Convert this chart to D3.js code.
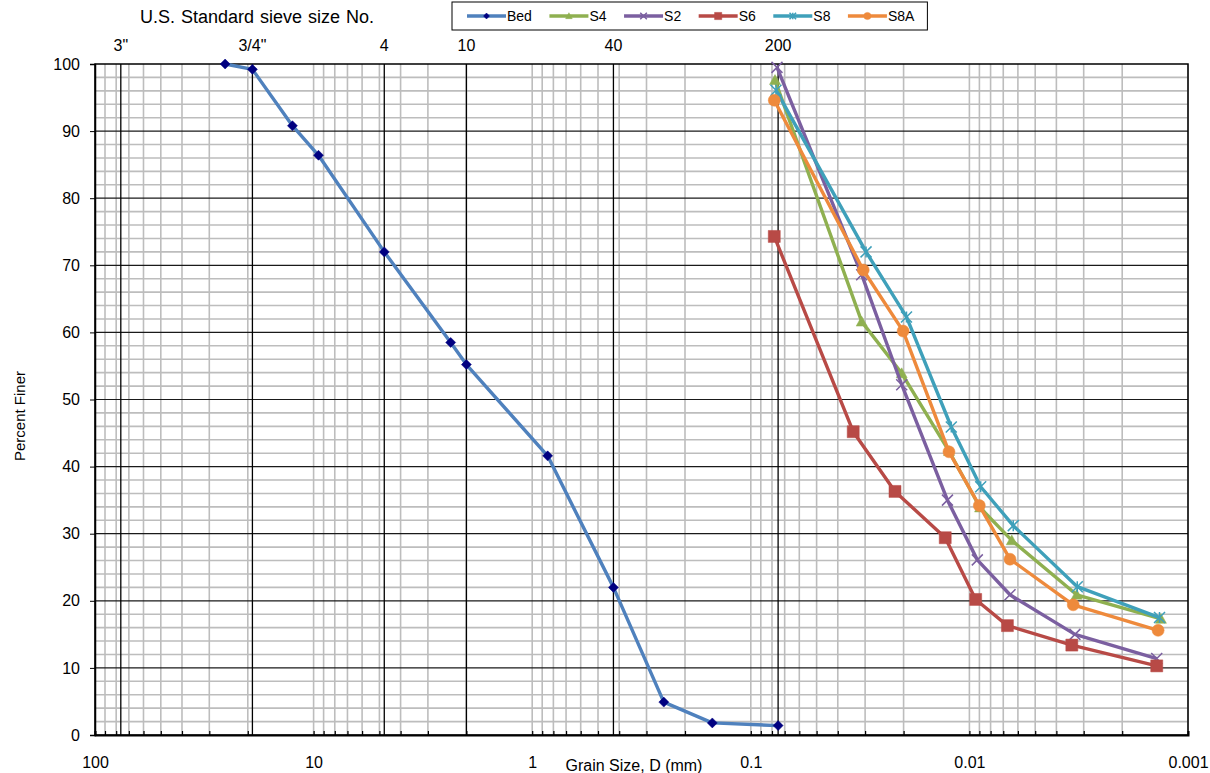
<!DOCTYPE html>
<html>
<head>
<meta charset="utf-8">
<script src="https://cdn.jsdelivr.net/npm/d3@7"></script>
<style>
  body { margin: 0; background: #fff; }
  svg { display: block; font-family: Arial, 'Liberation Sans', sans-serif; }
</style>
</head>
<body>
<div id="chart"></div>
<script>
// sieve sizes (mm) shown along the top
const sieveLabels = ['3"', '3/4"', '4', '10', '40', '200']
const sieveSizes = [76.2, 19.05, 4.75, 2.0, 0.425, 0.075]

// bottom axis decade labels
const decadeValues = [100, 10, 1, 0.1, 0.01, 0.001]
const decadeLabels = ['100', '10', '1', '0.1', '0.01', '0.001']

const yTicks = [0, 10, 20, 30, 40, 50, 60, 70, 80, 90, 100]

// grain size (mm) and percent finer for each sample
const bedSize = [25.4, 19.05, 12.5, 9.5, 4.75, 2.36, 2.0, 0.85, 0.425, 0.25, 0.15, 0.075]
const bedFiner = [100, 99.2, 90.8, 86.4, 72.0, 58.5, 55.2, 41.6, 22.0, 4.9, 1.8, 1.4]

const s4Size = [0.0775, 0.0311, 0.0204, 0.0124, 0.00894, 0.0064, 0.00323, 0.00133]
const s4Finer = [97.6, 61.6, 53.9, 42.3, 33.9, 29.0, 20.9, 17.3]

const s2Size = [0.0759, 0.0311, 0.0204, 0.0126, 0.0092, 0.00652, 0.00329, 0.00139]
const s2Finer = [99.5, 68.6, 52.2, 35.0, 26.1, 20.9, 15.0, 11.4]

const s6Size = [0.0781, 0.034, 0.0219, 0.0129, 0.00936, 0.0067, 0.0034, 0.00139]
const s6Finer = [74.3, 45.2, 36.3, 29.4, 20.2, 16.3, 13.4, 10.3]

const s8Size = [0.0767, 0.0297, 0.0194, 0.0121, 0.00888, 0.0063, 0.00321, 0.00135]
const s8Finer = [96.1, 72.0, 62.3, 45.9, 37.0, 31.2, 22.1, 17.5]

const s8aSize = [0.0781, 0.0306, 0.0201, 0.0124, 0.00901, 0.00652, 0.00335, 0.00137]
const s8aFiner = [94.6, 69.3, 60.2, 42.2, 34.2, 26.2, 19.4, 15.6]

const seriesNames = ['Bed', 'S4', 'S2', 'S6', 'S8', 'S8A']

const series = [
  { name: 'Bed', size: bedSize, finer: bedFiner, line: '#4f81bd', mark: '#000080', shape: 'diamond' },
  { name: 'S4', size: s4Size, finer: s4Finer, line: '#8fb050', mark: '#8fb050', shape: 'triangle' },
  { name: 'S2', size: s2Size, finer: s2Finer, line: '#7b5fa0', mark: '#7b5fa0', shape: 'x' },
  { name: 'S6', size: s6Size, finer: s6Finer, line: '#b84a46', mark: '#b84a46', shape: 'square' },
  { name: 'S8', size: s8Size, finer: s8Finer, line: '#3fa0ba', mark: '#3fa0ba', shape: 'star' },
  { name: 'S8A', size: s8aSize, finer: s8aFiner, line: '#ee8a3c', mark: '#ee8a3c', shape: 'circle' }
]

const width = 1210
const height = 773
const margin = { top: 64, right: 22, bottom: 38, left: 95 }

const svg = d3.select('#chart')
  .append('svg')
  .attr('width', width)
  .attr('height', height)

const x = d3.scaleLog()
  .domain([100, 0.001])
  .range([margin.left, width - margin.right])

const y = d3.scaleLinear()
  .domain([0, 100])
  .range([height - margin.bottom, margin.top])

// minor log positions 1..9 x 10^k
const minorX = []
for (let k = -3; k <= 1; k++) {
  for (let m = 1; m <= 9; m++) {
    minorX.push(+(m * Math.pow(10, k)).toPrecision(3))
  }
}
minorX.push(100)

const minorY = d3.range(2, 100, 2).filter(v => v % 10 !== 0)

const grid = svg.append('g')

grid.selectAll('line.vminor')
  .data(minorX)
  .join('line')
  .attr('x1', d => x(d))
  .attr('x2', d => x(d))
  .attr('y1', y(0))
  .attr('y2', y(100))
  .attr('stroke', '#bdbdbd')
  .attr('stroke-width', 1.6)

grid.selectAll('line.hminor')
  .data(minorY)
  .join('line')
  .attr('x1', x(100))
  .attr('x2', x(0.001))
  .attr('y1', d => y(d))
  .attr('y2', d => y(d))
  .attr('stroke', '#bdbdbd')
  .attr('stroke-width', 1.6)

grid.selectAll('line.hmajor')
  .data(yTicks.slice(1, -1))
  .join('line')
  .attr('x1', x(100))
  .attr('x2', x(0.001))
  .attr('y1', d => y(d))
  .attr('y2', d => y(d))
  .attr('stroke', '#1a1a1a')
  .attr('stroke-width', 1.2)

// sieve lines
grid.selectAll('line.sieve')
  .data(sieveSizes)
  .join('line')
  .attr('x1', d => x(d))
  .attr('x2', d => x(d))
  .attr('y1', y(0))
  .attr('y2', y(100))
  .attr('stroke', '#000')
  .attr('stroke-width', 1.3)

// plot frame
svg.append('rect')
  .attr('x', x(100))
  .attr('y', y(100))
  .attr('width', x(0.001) - x(100))
  .attr('height', y(0) - y(100))
  .attr('fill', 'none')
  .attr('stroke', '#000')
  .attr('stroke-width', 1.5)

// bottom axis
const xAxis = d3.axisBottom(x)
  .tickValues(minorX)
  .tickSize(-4)
  .tickPadding(22)
  .tickFormat(d => {
    const i = decadeValues.indexOf(d)
    return i >= 0 ? decadeLabels[i] : ''
  })

svg.append('g')
  .attr('transform', `translate(0,${y(0)})`)
  .call(xAxis)
  .call(g => g.select('.domain').attr('stroke-width', 2))
  .call(g => g.selectAll('.tick line').attr('stroke-width', 1.2))
  .call(g => g.selectAll('text').attr('font-size', 16).attr('fill', '#000').attr('font-family', null))

// left axis
const yAxis = d3.axisLeft(y)
  .tickValues(yTicks)
  .tickSize(5)
  .tickPadding(10)

svg.append('g')
  .attr('transform', `translate(${x(100)},0)`)
  .call(yAxis)
  .call(g => g.select('.domain').attr('stroke-width', 1.5))
  .call(g => g.selectAll('text').attr('font-size', 16).attr('fill', '#000').attr('font-family', null))

// sieve labels on top
svg.append('g')
  .selectAll('text')
  .data(sieveSizes)
  .join('text')
  .attr('x', d => x(d))
  .attr('y', 51)
  .attr('text-anchor', 'middle')
  .attr('font-size', 16)
  .text((d, i) => sieveLabels[i])

svg.append('text')
  .attr('x', 257)
  .attr('y', 23)
  .attr('text-anchor', 'middle')
  .attr('font-size', 18)
  .attr('word-spacing', 1)
  .text('U.S. Standard sieve size No.')

svg.append('text')
  .attr('x', 634)
  .attr('y', 771)
  .attr('text-anchor', 'middle')
  .attr('font-size', 16)
  .text('Grain Size, D (mm)')

svg.append('text')
  .attr('transform', 'translate(25,416) rotate(-90)')
  .attr('text-anchor', 'middle')
  .attr('font-size', 15)
  .text('Percent Finer')

// marker shapes
function markerPath (shape, s) {
  const h = s / 2
  switch (shape) {
    case 'diamond': return `M0,${-h}L${h},0L0,${h}L${-h},0Z`
    case 'triangle': return `M0,${-h}L${h},${h * 0.8}L${-h},${h * 0.8}Z`
    case 'square': return `M${-h},${-h}H${h}V${h}H${-h}Z`
    case 'circle': return `M${h},0A${h},${h} 0 1,1 ${-h},0A${h},${h} 0 1,1 ${h},0Z`
    case 'x': return `M${-h},${-h}L${h},${h}M${h},${-h}L${-h},${h}`
    case 'star': return `M${-h},${-h}L${h},${h}M${h},${-h}L${-h},${h}M0,${-h}L0,${h}`
  }
}

const markerSize = { diamond: 10, triangle: 11, square: 12, circle: 12, x: 11, star: 11 }

function drawMarker (sel, s, scale) {
  const filled = s.shape !== 'x' && s.shape !== 'star'
  sel.attr('d', markerPath(s.shape, markerSize[s.shape] * scale))
    .attr('fill', filled ? s.mark : 'none')
    .attr('stroke', s.mark)
    .attr('stroke-width', filled ? 0.5 : 1.5)
}

const line = d3.line()
  .x(d => x(d[0]))
  .y(d => y(d[1]))

series.forEach(s => {
  const pts = s.size.map((v, i) => [v, s.finer[i]])
  const g = svg.append('g')
  g.append('path')
    .datum(pts)
    .attr('d', line)
    .attr('fill', 'none')
    .attr('stroke', s.line)
    .attr('stroke-width', 3.4)
    .attr('stroke-linejoin', 'round')

  g.selectAll('path.mk')
    .data(pts)
    .join('path')
    .attr('class', 'mk')
    .attr('transform', d => `translate(${x(d[0])},${y(d[1])})`)
    .call(sel => drawMarker(sel, s, 1))
})

// legend
const legend = svg.append('g')
const legendBox = legend.append('rect')
  .attr('y', 2)
  .attr('height', 28)
  .attr('fill', '#fff')
  .attr('stroke', '#000')
  .attr('stroke-width', 1)

let lx = 467
series.forEach((s, i) => {
  const item = legend.append('g')
  item.append('line')
    .attr('x1', lx)
    .attr('x2', lx + 39)
    .attr('y1', 16)
    .attr('y2', 16)
    .attr('stroke', s.line)
    .attr('stroke-width', 3.4)
  item.append('path')
    .attr('transform', `translate(${lx + 19.5},16)`)
    .call(sel => drawMarker(sel, s, 0.6))
  const t = item.append('text')
    .attr('x', lx + 40)
    .attr('y', 21)
    .attr('font-size', 14)
    .text(seriesNames[i])
  lx += 40 + t.node().getComputedTextLength() + 17.5
})
legendBox
  .attr('x', 452)
  .attr('width', lx - 17.5 + 13 - 452)
</script>
</body>
</html>
